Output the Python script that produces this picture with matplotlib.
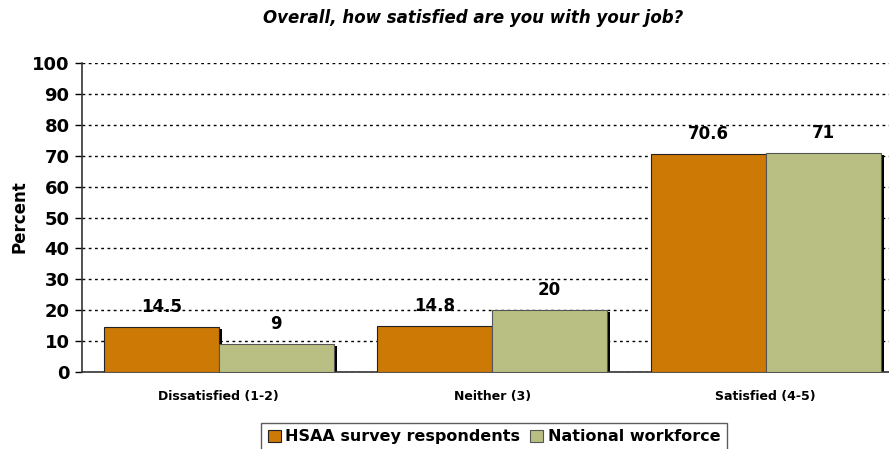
import matplotlib
matplotlib.use("Agg")
import matplotlib.pyplot as plt
import numpy as np

categories = ["Dissatisfied (1-2)", "Neither (3)", "Satisfied (4-5)"]
series_names = ["HSAA survey respondents", "National workforce"]
hsaa = [14.5, 14.8, 70.6]
national = [9, 20, 71]
value_labels_hsaa = ["14.5", "14.8", "70.6"]
value_labels_national = ["9", "20", "71"]
yticks = [0, 10, 20, 30, 40, 50, 60, 70, 80, 90, 100]

colors = ["#CC7A05", "#B9BF82"]

plt.rcParams["font.family"] = ["DejaVu Sans"]
fig = plt.figure(figsize=(8.89, 4.49), dpi=100)
W, H = 889, 449
ax = fig.add_axes([82 / W, 1 - 372 / H, (889 - 82) / W, (372 - 63) / H])

x = np.arange(len(categories))
bw = 0.42

# drop shadows behind bars
sdx, sdy = 0.012, -0.7
for vals, off in ((hsaa, -bw / 2), (national, bw / 2)):
    ax.bar(x + off + sdx, vals, bw, bottom=sdy, color="black", zorder=2)

b1 = ax.bar(x - bw / 2, hsaa, bw, color=colors[0], edgecolor="#222222",
            linewidth=0.8, zorder=3, label=series_names[0])
b2 = ax.bar(x + bw / 2, national, bw, color=colors[1], edgecolor="#555555",
            linewidth=0.8, zorder=3, label=series_names[1])

for xi, v, t in zip(x - bw / 2, hsaa, value_labels_hsaa):
    ax.text(xi, v + 6.5, t, ha="center", va="center", fontsize=12,
            fontweight="bold", zorder=4)
for xi, v, t in zip(x + bw / 2, national, value_labels_national):
    ax.text(xi, v + 6.5, t, ha="center", va="center", fontsize=12,
            fontweight="bold", zorder=4)

ax.set_xlim(-0.5, (889 - 82) / 273.5 - 0.5)
ax.set_ylim(0, 100)
ax.set_yticks(yticks)
ax.set_yticklabels([str(t) for t in yticks], fontsize=13, fontweight="bold")
ax.set_xticks(x)
ax.set_xticklabels(categories, fontsize=9, fontweight="bold")
ax.tick_params(axis="x", length=0, pad=13)
ax.tick_params(axis="y", direction="out", length=5, width=1, pad=4)
ax.yaxis.grid(True, linestyle=(0, (2, 2.5)), color="black", linewidth=1)
ax.set_axisbelow(True)
for s in ("top", "right"):
    ax.spines[s].set_visible(False)
ax.spines["left"].set_color("#333333")
ax.spines["bottom"].set_color("#333333")
ax.spines["left"].set_linewidth(1.2)
ax.spines["bottom"].set_linewidth(1.2)

fig.text(20 / W, 1 - 217 / H, "Percent", rotation=90, ha="center",
         va="center", fontsize=12, fontweight="bold")

fig.text(473 / W, 1 - 18 / H, "Overall, how satisfied are you with your job?",
         ha="center", va="center", fontsize=12, fontweight="bold",
         style="italic")

leg = fig.legend(handles=[b1, b2], loc="lower center",
                 bbox_to_anchor=(494 / W, -0.004), ncol=2, frameon=True,
                 fancybox=False, edgecolor="#333333",
                 prop={"weight": "bold", "size": 11.5}, handlelength=0.8,
                 handleheight=0.8, handletextpad=0.3, columnspacing=0.6,
                 borderpad=0.4, borderaxespad=0)
leg.get_frame().set_linewidth(1.0)

fig.savefig("out.png", dpi=100)
